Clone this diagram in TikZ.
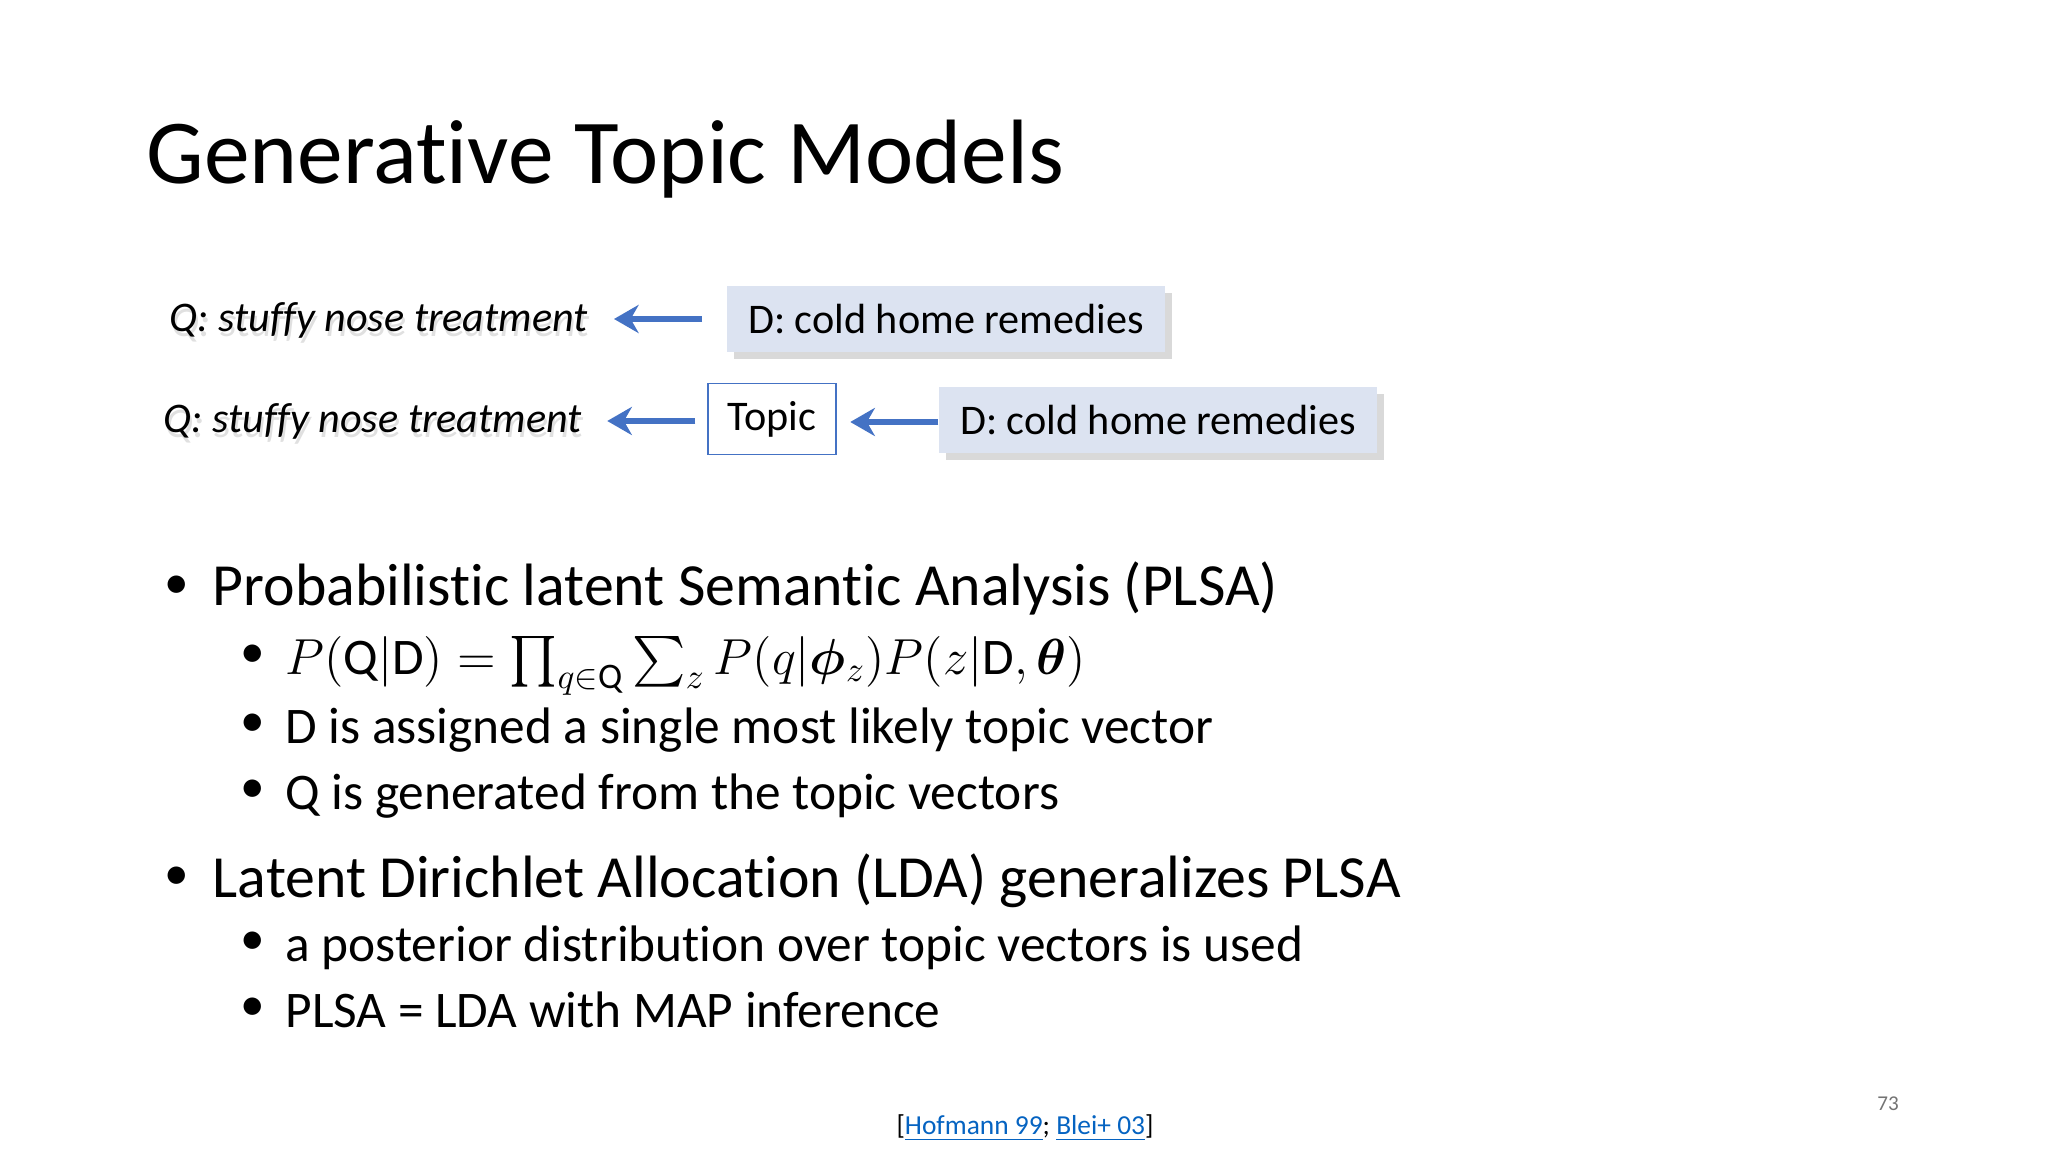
\documentclass[tikz,border=0pt]{standalone}
\usepackage{amsmath,bm}
\usepackage{fontspec}
\setmainfont{Carlito}[Ligatures=NoCommon]
\usetikzlibrary{shadows,arrows.meta}
\definecolor{arr}{RGB}{68,114,196}
\definecolor{boxf}{RGB}{220,227,241}
\definecolor{link}{RGB}{5,99,193}
\tikzset{
  dbox/.style={fill=boxf,inner xsep=6pt,inner ysep=5pt,font=\fontsize{12}{14}\selectfont,drop shadow={shadow xshift=2pt,shadow yshift=-2pt,opacity=0.3}},
  tbox/.style={draw=arr,fill=white,inner xsep=5pt,inner ysep=5pt,font=\fontsize{12}{14}\selectfont},
  qtxt/.style={font=\fontsize{12}{14}\selectfont\itshape},
  qsh/.style={font=\fontsize{12}{14}\selectfont\itshape,text=black!12},
  barrow/.style={draw=arr,line width=1.6pt,-{Stealth[length=7pt,width=8pt]}},
  lone/.style={anchor=base west,font=\fontsize{17}{20}\selectfont},
  ltwo/.style={anchor=base west,font=\fontsize{14.6}{17}\selectfont},
}
\newcommand{\bul}{\raisebox{0.12em}{\fontsize{14}{14}\selectfont•}\hspace{0.4em}}
\begin{document}
\begin{tikzpicture}[x=0.01cm,y=-0.01cm]
\useasboundingbox (0,0) rectangle (2048,1152);
\node[anchor=base west,font=\fontsize{26}{30}\selectfont] (title) at (134,184) {Generative Topic Models};
% row 1
\node[qsh,anchor=west] (q1s) at (159,325) {Q: stuffy nose treatment};
\node[qtxt,anchor=west] (q1) at (157,320) {Q: stuffy nose treatment};
\node[dbox,minimum height=66*0.2845pt] (d1) at (946,319) {D: cold home remedies};
\coordinate (a1s) at (702,319); \coordinate (a1e) at (614,319);
\draw[barrow] (a1s) -- (a1e);
% row 2
\node[qsh,anchor=west] (q2s) at (153,426) {Q: stuffy nose treatment};
\node[qtxt,anchor=west] (q2) at (151,421) {Q: stuffy nose treatment};
\node[tbox,minimum width=128*0.2845pt,minimum height=68*0.2845pt] (topic) at (772,419) {Topic};
\node[dbox,minimum height=66*0.2845pt] (d2) at (1158,420) {D: cold home remedies};
\draw[barrow] (topic.west) ++(-12,2) coordinate (t1) (t1) -- +(-88,0) coordinate (t2);
\draw[barrow] (d2.west) ++(0,2) coordinate (t3) (t3) -- +(-88,0);
% bullets
\node[lone] (b1) at (152,606) {\bul Probabilistic latent Semantic Analysis (PLSA)};
\node[ltwo] (b2) at (228,674) {\bul $P(\mathrm{Q}|\mathrm{D})=\prod_{q\in \mathrm{Q}}\sum_z P(q|\bm{\phi}_z)P(z|\mathrm{D},\bm{\theta})$};
\node[ltwo] (b3) at (228,743) {\bul D is assigned a single most likely topic vector};
\node[ltwo] (b4) at (228,809) {\bul Q is generated from the topic vectors};
\node[lone] (b5) at (152,897) {\bul Latent Dirichlet Allocation (LDA) generalizes PLSA};
\node[ltwo] (b6) at (228,961) {\bul a posterior distribution over topic vectors is used};
\node[ltwo] (b7) at (228,1027) {\bul PLSA = LDA with MAP inference};
\node[font=\fontsize{7.8}{9}\selectfont] (ref) at (1025,1128) {[{\color{link}\underline{Hofmann 99}}; {\color{link}\underline{Blei+ 03}}]};
\node[font=\fontsize{6}{7}\selectfont,text=black!55] (pg) at (1888,1104) {73};
\end{tikzpicture}
\end{document}
